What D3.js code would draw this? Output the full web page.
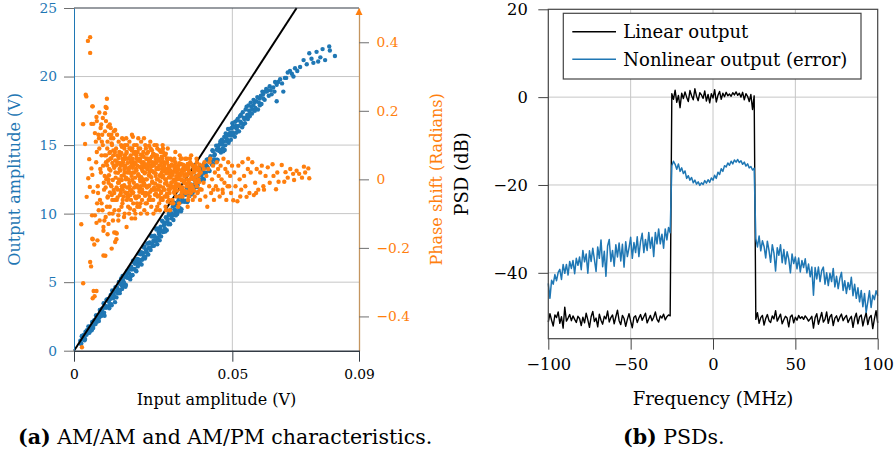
<!DOCTYPE html>
<html lang="en">
<head>
<meta charset="UTF-8">
<title>AM/AM, AM/PM and PSDs</title>
<script src="https://d3js.org/d3.v7.min.js"></script>
<style>
  body { margin: 0; background: #fff; }
  svg { display: block; font-family: "DejaVu Serif", "Liberation Serif", serif; }
</style>
</head>
<body>
<svg width="896" height="453"></svg>
<script>
// ---------- (a) AM/AM and AM/PM : [input amplitude (V), output amplitude (V)]
const amamPoints = [
  [.0020,.73],[.0023,.53],[.0026,1.10],[.0029,.87],[.0032,1.17],[.0035,.85],[.0038,1.25],[.0041,1.49],[.0044,1.29],[.0047,1.74],
  [.0050,1.42],[.0053,1.76],[.0056,1.49],[.0059,2.10],[.0062,1.89],[.0065,2.20],[.0068,1.94],[.0071,2.57],[.0074,2.34],[.0077,2.55],
  [.0080,2.41],[.0083,2.93],[.0086,2.54],[.0089,2.85],[.0092,3.12],[.0095,2.77],[.0098,3.26],[.0101,3.13],[.0104,3.73],[.0107,3.22],
  [.0110,3.57],[.0113,3.32],[.0116,4.06],[.0119,3.31],[.0122,4.15],[.0125,4.10],[.0128,3.95],[.0131,4.64],[.0134,3.89],[.0137,4.58],
  [.0140,4.43],[.0143,4.88],[.0146,4.42],[.0149,5.27],[.0152,4.51],[.0155,5.11],[.0158,4.96],[.0161,5.55],[.0164,4.80],[.0167,5.34],
  [.0170,5.69],[.0173,5.34],[.0176,5.98],[.0179,5.43],[.0182,5.92],[.0185,5.52],[.0188,6.47],[.0191,5.96],[.0194,6.41],[.0197,5.80],
  [.0200,6.70],[.0203,6.40],[.0206,6.64],[.0209,6.34],[.0212,7.18],[.0215,6.63],[.0218,7.13],[.0221,7.52],[.0224,6.72],[.0227,7.36],
  [.0230,7.16],[.0233,7.81],[.0236,7.50],[.0239,7.90],[.0242,7.34],[.0245,8.34],[.0248,7.64],[.0251,8.03],[.0254,8.39],[.0257,8.02],
  [.0260,8.84],[.0263,7.77],[.0266,8.90],[.0269,8.48],[.0272,8.90],[.0275,8.34],[.0278,9.49],[.0281,8.66],[.0284,9.16],[.0287,8.92],
  [.0290,9.74],[.0293,8.79],[.0296,9.60],[.0299,9.90],[.0302,9.27],[.0305,10.28],[.0308,9.66],[.0311,9.95],[.0314,9.53],[.0317,10.79],
  [.0320,10.17],[.0323,10.60],[.0326,9.97],[.0329,10.92],[.0332,10.36],[.0335,11.31],[.0338,10.17],[.0341,11.11],[.0344,10.88],[.0347,11.56],
  [.0350,10.87],[.0353,11.37],[.0356,11.91],[.0359,10.90],[.0362,11.84],[.0365,11.29],[.0368,11.91],[.0371,11.67],[.0374,12.62],[.0377,11.60],
  [.0380,12.49],[.0383,12.19],[.0386,12.74],[.0389,11.93],[.0392,12.74],[.0395,12.38],[.0398,13.33],[.0401,12.44],[.0404,12.93],[.0407,13.48],
  [.0410,12.47],[.0413,13.35],[.0416,12.98],[.0419,13.93],[.0422,13.37],[.0425,13.86],[.0428,13.11],[.0431,14.18],[.0434,13.69],[.0437,14.63],
  [.0440,13.62],[.0443,14.25],[.0446,13.94],[.0449,14.96],[.0452,13.94],[.0455,14.76],[.0458,14.59],[.0461,15.08],[.0464,14.46],[.0467,15.40],
  [.0470,14.78],[.0473,15.27],[.0476,14.64],[.0479,15.85],[.0482,15.29],[.0485,15.78],[.0488,15.16],[.0491,15.71],[.0494,16.20],[.0497,15.70],
  [.0500,16.59],
  [.00215,.51],[.00245,1.06],[.00275,.85],[.00305,1.12],[.00335,.76],[.00365,1.38],[.00395,1.16],[.00425,1.36],[.00455,1.77],[.00485,1.31],
  [.00515,1.72],[.00545,1.60],[.00575,2.09],[.00605,1.66],[.00635,2.21],[.00665,2.06],[.00695,2.57],[.00725,2.11],[.00755,2.52],[.00785,2.16],
  [.00815,2.97],[.00845,2.64],[.00875,3.04],[.00905,2.60],[.00935,3.47],[.00965,2.55],[.00995,3.24],[.01025,3.70],[.01055,3.20],[.01085,3.77],
  [.01115,3.09],[.01145,3.78],[.01175,3.40],[.01205,4.40],[.01235,3.83],[.01265,4.29],[.01295,3.54],[.01325,4.60],[.01355,4.34],[.01385,4.19],
  [.01415,5.01],[.01445,4.20],[.01475,4.90],[.01505,4.76],[.01535,5.45],[.01565,4.71],[.01595,5.40],[.01625,4.66],[.01655,5.42],[.01685,5.81],
  [.01715,5.31],[.01745,5.64],[.01775,5.20],[.01805,6.14],[.01835,5.51],[.01865,6.57],[.01895,5.94],[.01925,6.34],[.01955,5.84],[.01985,6.59],
  [.02015,6.15],[.02045,7.08],[.02075,6.58],[.02105,7.04],[.02135,6.29],[.02165,7.05],[.02195,6.78],[.02225,7.60],[.02255,6.86],[.02285,7.31],
  [.02315,7.83],[.02345,7.02],[.02375,7.84],[.02405,7.52],[.02435,8.39],[.02465,7.83],[.02495,8.34],[.02525,7.66],[.02555,8.30],[.02585,7.97],
  [.02615,8.91],[.02645,8.22],[.02675,8.62],[.02705,8.06],[.02735,9.05],[.02765,8.73],[.02795,9.42],[.02825,8.68],[.02855,9.32],[.02885,8.69],
  [.02915,9.69],[.02945,9.42],[.02975,9.22],[.03005,10.04],[.03035,9.23],[.03065,10.05],[.03095,9.84],[.03125,10.54],[.03155,9.92],[.03185,10.31],
  [.03215,9.87],[.03245,10.68],[.03275,10.12],[.03305,11.18],[.03335,10.43],[.03365,10.83],[.03395,10.32],[.03425,11.32],[.03455,10.94],[.03485,11.63],
  [.03515,10.95],[.03545,11.52],[.03575,10.84],[.03605,11.96],[.03635,11.63],[.03665,11.55],[.03695,12.12],[.03725,11.44],[.03755,12.56],[.03785,12.05],
  [.03815,12.45],[.03845,11.94],[.03875,12.52],[.03905,12.08],[.03935,13.19],[.03965,12.45],[.03995,13.14],[.04025,12.76],[.04055,13.04],[.04085,12.53],
  [.04115,13.65],[.04145,12.96],[.04175,13.54],[.04205,13.40],[.04235,13.97],[.04265,13.17],[.04295,14.04],[.04325,13.84],[.04355,13.58],[.04385,14.57],
  [.04415,13.95],[.04445,14.34],[.04475,13.90],[.04505,14.66],[.04535,13.91],[.04565,14.97],[.04595,14.58],[.04625,15.28],[.04655,14.66],[.04685,15.05],
  [.04715,14.55],[.04745,15.60],[.04775,14.98],[.04805,15.56],[.04835,15.41],[.04865,16.17],[.04895,15.30],[.04925,15.88],[.04955,15.38],[.04985,16.25],
  [.05015,15.93],
  [.0503,15.8],[.0509,16.7],[.0518,16.0],[.0526,16.7],[.0535,16.5],[.0544,17.0],[.0553,17.5],[.0563,17.6],[.0570,18.1],[.0587,17.9],
  [.0595,18.9],[.0612,19.0],[.0502,16.4],[.0508,15.6],[.0511,16.4],[.0514,16.2],[.0517,16.9],[.0521,16.0],[.0527,17.2],[.0531,16.3],
  [.0536,17.0],[.0540,16.6],[.0545,17.8],[.0549,16.9],[.0555,17.1],[.0558,18.1],[.0562,17.3],[.0566,17.9],[.0571,17.5],[.0576,18.2],
  [.0581,17.6],[.0586,18.4],[.0592,18.0],[.0597,18.7],[.0602,18.3],[.0607,19.1],[.0615,18.6],[.0621,19.0],[.0633,18.9],[.0645,19.6],
  [.0657,19.5],[.0670,19.9],[.0688,20.2],[.0705,20.4],[.0725,21.2],[.0750,21.3],[.0771,21.1],[.0785,22.0],
  [.0506,16.3],[.0512,15.9],[.0515,16.8],[.0520,16.4],[.0524,17.1],[.0529,16.6],[.0533,17.4],[.0538,16.9],[.0542,17.6],[.0547,17.2],
  [.0551,17.9],[.0556,17.3],[.0560,17.8],[.0567,18.3],[.0573,17.7],[.0579,18.5],[.0584,18.1],[.0590,18.6],[.0598,18.4],[.0604,18.9],
  [.0609,18.9],[.0618,19.3],[.0624,18.7],[.0629,19.2],[.0640,18.2],[.0640,19.4],[.0651,19.8],[.0661,18.9],[.0666,19.9],[.0682,20.4],
  [.0693,20.0],[.0698,20.6],[.0714,20.7],[.0735,20.9],[.0743,21.7],[.0756,21.0],[.0766,21.8],[.0793,21.2],[.0806,22.2],[.0824,21.5],
  [.0808,21.9],[.0778,21.4],[.0675,20.3],[.0635,19.6]
];

// [input amplitude (V), phase shift (rad)]
const ampmPoints = [
  [.0044,.404],[.0051,.415],[.0051,.369],[.0037,.247],[.0039,.242],[.0029,.161],[.0035,.103],[.0023,-.131],[.0029,-.303],[.0051,-.241],
  [.0054,-.254],[.0062,-.326],[.0071,-.326],[.0059,-.347],[.0065,-.341],[.0059,-.175],[.0064,-.19],[.0025,-.49],[.0055,.162],[.0058,.213],
  [.0048,.059],[.0045,.003],[.0050,-.022],[.0040,-.051],[.0055,.032],[.0058,.013],[.0061,-.036],[.0057,-.105],[.0066,-.105],[.0071,-.127],
  [.0093,-.139],[.0058,-.173],[.0074,-.178],[.0061,.162],[.0071,.182],[.0098,.193],[.0059,.213],[.0091,.179],[.0066,.135],[.0077,.13],
  [.0108,.154],[.0103,.208],[.0104,.235],[.0100,.211],[.0072,.17],[.0080,.195],[.0086,.16],[.0130,.144],[.0099,-.223],[.0134,-.175],
  [.0132,-.156],[.0135,-.158],[.0130,-.183],[.0119,-.202],[.0093,-.222],[.0166,-.139],[.0127,-.155],[.0182,-.114],[.0140,-.105],[.0177,-.085],
  [.0193,-.114],[.0119,.105],[.0124,.12],[.0151,.095],[.0156,.117],[.0186,.124],[.0237,.098],
  [.0070,.05],[.0075,-.02],[.0080,.09],[.0082,-.06],[.0085,.02],[.0088,.11],[.0090,-.09],[.0092,.04],[.0095,-.03],[.0097,.07],
  [.0100,-.11],[.0102,.0],[.0105,.09],[.0107,-.05],[.0110,.13],[.0111,.03],[.0113,-.08],[.0115,.06],[.0118,-.02],[.0120,.1],
  [.0122,-.1],[.0125,.04],[.0127,-.04],[.0129,.08],[.0078,-.09],[.0089,.13],[.0096,-.12],[.0109,-.13],[.0116,.15],[.0123,-.12],
  [.0072,.08],[.0076,-.04],[.0079,.12],[.0083,.03],[.0087,-.07],[.0091,.1],[.0094,-.01],[.0098,.14],[.0101,.05],[.0104,-.08],
  [.0106,.11],[.0109,.0],[.0112,-.1],[.0114,.08],[.0117,.12],[.0121,-.06],[.0124,.07],[.0126,.14],[.0128,-.09],[.0081,-.12],
  [.0093,-.15],[.0106,-.16],[.0118,.13],[.0084,.15],[.0097,.01],[.0073,-.07],[.0069,.11],[.0101,.17],[.0113,.16],[.0087,.07],
  [.0131,.02],[.0133,.09],[.0135,-.06],[.0137,.05],[.0139,-.01],[.0141,.11],[.0142,-.09],[.0144,.03],[.0146,.07],[.0148,-.04],
  [.0150,.01],[.0152,.12],[.0153,-.07],[.0155,.05],[.0157,-.02],[.0159,.09],[.0160,-.1],[.0162,.04],[.0164,.0],[.0166,.08],
  [.0168,-.05],[.0170,.06],[.0171,-.08],[.0173,.03],[.0175,.11],[.0177,-.03],[.0179,.07],[.0180,-.06],[.0182,.01],[.0184,.09],
  [.0186,-.04],[.0188,.05],[.0190,-.09],[.0191,.02],[.0193,.08],[.0195,-.02],[.0197,.06],[.0199,-.07],[.0136,.13],[.0140,-.12],
  [.0149,.1],[.0158,-.11],[.0165,.12],[.0174,-.1],[.0183,.13],[.0194,-.1],[.0138,-.03],[.0147,.04],[.0156,-.05],[.0163,.06],
  [.0172,.0],[.0181,.04],[.0189,-.01],[.0196,.03],[.0143,.08],[.0151,-.02],[.0161,.1],[.0169,.02],[.0178,.09],[.0187,-.07],[.0198,.1],
  [.0200,.04],[.0202,-.05],[.0204,.09],[.0205,.01],[.0207,-.08],[.0209,.06],[.0210,-.02],[.0212,.11],[.0214,.03],[.0215,-.06],
  [.0217,.07],[.0219,-.01],[.0220,.05],[.0222,-.09],[.0224,.02],[.0225,.1],[.0227,-.04],[.0229,.06],[.0230,-.07],[.0232,.03],
  [.0234,.08],[.0235,-.02],[.0237,.05],[.0239,-.05],[.0240,.01],[.0242,.09],[.0244,-.08],[.0245,.04],[.0247,-.01],[.0249,.07],
  [.0250,-.06],[.0252,.02],[.0254,.1],[.0255,-.03],[.0257,.05],[.0259,-.09],[.0260,.03],[.0262,.07],[.0264,-.05],[.0265,.0],
  [.0267,.06],[.0269,-.07],[.0270,.04],[.0272,-.02],[.0274,.08],[.0275,-.04],[.0277,.02],[.0279,.06],[.0280,-.06],[.0282,.01],
  [.0284,.05],[.0285,-.03],[.0287,.07],[.0289,-.08],[.0290,.03],[.0292,-.01],[.0294,.05],[.0295,-.05],[.0297,.02],[.0299,.06],
  [.0203,.12],[.0211,-.1],[.0221,.12],[.0231,-.1],[.0241,.11],[.0251,-.1],[.0261,.1],[.0271,-.09],[.0281,.09],[.0291,-.09],
  [.0303,-.09],[.0313,-.07],[.0208,.0],[.0218,.04],[.0228,-.02],[.0238,.02],[.0248,.05],[.0258,.01],[.0268,-.03],[.0278,.03],
  [.0288,.0],[.0298,-.03],
  [.0300,.03],[.0302,-.04],[.0305,.06],[.0307,-.01],[.0309,.02],[.0311,-.06],[.0314,.04],[.0316,.0],[.0318,-.03],[.0320,.05],
  [.0323,-.05],[.0325,.02],[.0327,-.02],[.0330,.04],[.0332,-.07],[.0334,.01],[.0337,.06],[.0339,-.03],[.0341,.02],[.0343,-.05],
  [.0346,.04],[.0348,-.01],[.0350,.03],[.0353,-.04],[.0355,.06],[.0357,.0],[.0360,-.06],[.0362,.02],[.0364,-.02],[.0367,.05],
  [.0369,-.04],[.0371,.01],[.0374,.04],[.0376,-.03],[.0378,.02],[.0381,-.05],[.0383,.03],[.0385,-.01],[.0388,.05],[.0390,-.04],
  [.0393,.0],[.0395,.03],[.0398,-.06],[.0340,.061],[.0366,.061],[.0370,.07],[.0329,-.08],[.0359,-.08],
  [.0400,.02],[.0403,-.03],[.0406,.04],[.0409,-.01],[.0412,.05],[.0415,-.05],[.0418,.01],[.0421,-.08],[.0424,.03],[.0427,-.02],
  [.0430,.06],[.0433,-.04],[.0436,.0],[.0439,.04],[.0442,-.06],[.0445,.02],[.0448,-.02],[.0451,.05],[.0454,-.03],[.0457,.01],
  [.0460,-.05],[.0463,.04],[.0466,.0],[.0469,-.03],[.0472,.06],[.0475,-.01],[.0478,.03],[.0481,-.06],[.0484,.02],[.0487,.05],
  [.0490,-.02],[.0493,.01],[.0496,-.04],[.0499,.04],
  [.0503,-.061],[.0516,-.064],[.0545,-.051],[.0568,-.046],[.0506,.02],[.0510,-.02],[.0519,.04],[.0523,.0],[.0528,-.03],[.0532,.05],
  [.0537,.01],[.0541,-.02],[.0549,.03],[.0554,-.04],[.0558,.02],[.0563,.05],[.0572,-.01],[.0577,.03],[.0582,-.03],[.0588,.02],
  [.0593,.04],[.0598,-.02],[.0550,.06],[.0525,-.05],[.0575,-.04],
  [.0605,.01],[.0612,.035],[.0618,-.01],[.0627,.044],[.0638,-.029],[.0642,.02],[.0646,-.007],[.0656,.042],[.0664,-.007],[.0668,.021],
  [.0675,.005],[.0683,.03],[.0692,.016],[.0695,-.002],[.0703,.025],[.0711,.016],[.0720,.005],[.0726,.037],[.0740,.032],[.0743,.003],
  [.0730,.02],[.0600,-.03],[.0630,.01],
  [.0146,.045],[.0154,-.03],[.0161,.07],[.0167,-.06],[.0175,.035],[.0182,-.035],[.0189,.075],[.0196,-.055],[.0203,.015],[.0209,.09],
  [.0216,-.04],[.0223,.035],[.0230,.075],[.0236,-.06],[.0243,.025],[.0250,.075],[.0256,-.045],[.0263,.035],[.0270,.085],[.0276,-.055],
  [.0283,.025],[.0290,.075],[.0296,-.065],[.0304,.015],[.0310,.055],[.0317,-.04],[.0324,.03],[.0331,-.015],[.0338,.045],[.0345,-.035],
  [.0352,.015],[.0359,.045],
  [.0150,-.08],[.0159,.03],[.0168,.1],[.0176,-.02],[.0185,.06],[.0193,-.05],[.0201,.08],[.0210,-.07],[.0219,.0],[.0227,.09],
  [.0236,.04],[.0245,-.03],[.0254,.07],[.0263,-.08],[.0272,.01],[.0281,.08],[.0290,-.05],[.0299,.04],[.0308,-.07],[.0317,.06],
  [.0326,.0],[.0335,-.05],[.0344,.03],
  [.0142,.0],[.0153,.06],[.0164,-.04],[.0175,.09],[.0186,.02],[.0197,.07],[.0208,-.03],[.0219,.08],[.0230,.0],[.0241,-.06],
  [.0252,.04],[.0263,.09],[.0274,-.06],[.0285,.04],[.0296,.09],[.0307,.04],[.0318,-.02],[.0329,.03],[.0340,-.04],[.0351,.06],[.0362,-.05],
  [.0205,-.05],[.0213,.05],[.0226,-.07],[.0233,.06],[.0246,.085],[.0258,.06],[.0266,-.02],[.0278,.05],[.0286,-.05],[.0293,.06],
  [.0305,-.02],[.0312,.02],[.0321,-.03],[.0334,.07],[.0348,.01],[.0361,.03],[.0375,-.06],[.0387,.06],[.0399,.02],[.0410,.03],
  [.0428,.05],[.0440,-.03],[.0455,.03],[.0470,-.04],[.0485,-.02],
  [.0160,.02],[.0170,-.04],[.0180,.05],[.0190,.1],[.0200,-.08],[.0220,-.04],[.0240,.06],[.0260,-.03],[.0280,.1],[.0300,-.06],
  [.0320,.08],[.0340,.0],[.0360,.04],[.0380,.0],
  [.01000,-.024],[.01015,.070],[.01030,.005],[.01045,.041],[.01060,-.053],[.01075,.055],[.01090,-.010],[.01105,.012],[.01120,.077],[.01135,-.038],
  [.01150,.026],[.01165,-.017],[.01180,.062],[.01195,-.046],[.01210,.048],[.01225,-.002],[.01240,.084],[.01255,-.031],[.01270,.034],[.01285,-.060],
  [.01300,.055],[.01315,.005],[.01330,.041],[.01345,-.024],[.01360,.070],[.01375,-.053],[.01390,.019],[.01405,.062],[.01420,-.010],[.01435,.048],
  [.01450,-.046],[.01465,.026],[.01480,-.031],[.01495,.077],[.01510,-.002],[.01525,.041],[.01540,-.060],[.01555,.055],[.01570,.012],[.01585,-.017],
  [.01600,.070],[.01615,-.038],[.01630,.034],[.01645,.005],[.01660,.077],[.01675,-.024],[.01690,.048],[.01705,-.053],[.01720,.026],[.01735,.062],
  [.01750,-.010],[.01765,.019],[.01780,-.046],[.01795,.055],[.01810,-.031],[.01825,.084],[.01840,-.002],[.01855,.034],[.01870,-.038],[.01885,.041],
  [.01900,-.024],[.01915,.077],[.01930,.005],[.01945,.048],[.01960,-.053],[.01975,.026],[.01990,-.017],[.02005,.060],[.02020,-.024],[.02035,.012],
  [.02050,.054],[.02065,-.036],[.02080,.036],[.02095,-.006],[.02110,.072],[.02125,.006],[.02140,.048],[.02155,-.030],[.02170,.024],[.02185,-.018],
  [.02200,.066],[.02215,-.012],[.02230,.018],[.02245,-.048],[.02260,.042],[.02275,.000],[.02290,.060],[.02305,-.024],[.02320,.030],[.02335,-.042],
  [.02350,.048],[.02365,.012],[.02380,-.018],[.02395,.054],[.02410,-.036],[.02425,.036],[.02440,.006],[.02455,.066],[.02470,-.006],[.02485,.024],
  [.02500,-.030],[.02515,.042],[.02530,-.024],[.02545,.072],[.02560,-.012],[.02575,.018],[.02590,-.042],[.02605,.048],[.02620,.000],[.02635,.060],
  [.02650,-.018],[.02665,.030],[.02680,-.048],[.02695,.054],[.02710,.012],[.02725,-.006],[.02740,.042],[.02755,-.036],[.02770,.066],[.02785,.006],
  [.02800,.036],[.02815,-.024],[.02830,.024],[.02845,-.030],[.02860,.072],[.02875,-.012],[.02890,.048],[.02905,.000],[.02920,.018],[.02935,-.042],
  [.02950,.060],[.02965,-.018],[.02980,.030],[.02995,.006],[.03010,.034],[.03025,-.029],[.03040,.026],[.03055,.005],[.03070,-.020],[.03085,.043],
  [.03100,-.008],[.03115,.013],[.03130,-.024],[.03145,.022],[.03160,-.037],[.03175,.030],[.03190,-.003],[.03205,.039],[.03220,-.012],[.03235,.009],
  [.03250,-.033],[.03265,.034],[.03280,-.016],[.03295,.018],[.03310,.001],[.03325,.047],[.03340,-.020],[.03355,.013],[.03370,-.029],[.03385,.026],
  [.03400,-.003],[.03415,.018],[.03430,-.024],[.03445,.043],[.03460,-.003],[.03475,.026],[.03490,-.033],[.03505,.009],[.03520,.030],[.03535,-.012],
  [.03550,.039],[.03565,-.020],[.03580,.013],[.03595,-.037],[.03610,.034],[.03625,-.008],[.03640,.022],[.03655,-.029],[.03670,.047],[.03685,.001],
  [.03700,.018],[.03715,-.016],[.03730,.043],[.03745,-.024],[.03760,.005],[.03775,.030],[.03790,-.033],[.03805,.022],[.03820,-.003],[.03835,.039],
  [.03850,-.012],[.03865,.009],[.03880,-.020],[.03895,.034],[.03910,-.037],[.03925,.026],[.03940,.013],[.03955,-.008],[.03970,.043],[.03985,-.029]
];

// linear (ideal) amplifier reference
const linearRef = [[0, 0], [0.0703, 25]];

const inTicks = [0, 0.05, 0.09];
const inTickLabels = ["0", "0.05", "0.09"];
const ampTicks = [0, 5, 10, 15, 20, 25];
const ampGrid = [5, 10, 15, 20];
const inGrid = [0.05];
const phaseTicks = [-0.4, -0.2, 0, 0.2, 0.4];
const phaseTickLabels = ["\u22120.4", "\u22120.2", "0", "0.2", "0.4"];

// ---------- (b) PSDs, 1 MHz bins from -100 to 100 MHz
const freqs = d3.range(-100, 101);
const psdLinear = [
  -51.2,-49.3,-50.8,-52.1,-49.6,-50.2,-48.9,-51.5,-50.0,-52.6,
  -47.8,-51.0,-50.3,-49.5,-50.9,-49.8,-50.6,-51.3,-49.9,-50.4,
  -52.0,-50.1,-51.4,-49.2,-50.7,-52.4,-50.0,-48.8,-51.1,-50.3,
  -52.3,-49.4,-50.8,-51.7,-49.9,-50.5,-48.7,-51.2,-50.2,-49.6,
  -51.6,-50.0,-48.5,-50.9,-51.8,-49.7,-50.4,-52.2,-50.6,-49.3,
  -51.0,-52.5,-50.1,-49.8,-51.3,-50.3,-49.5,-50.8,-50.0,-49.2,
  -51.4,-50.5,-49.7,-50.9,-50.1,-48.9,-50.6,-51.2,-49.8,-50.3,
  -49.4,-50.7,-50.0,-49.6,-49.8,
  0.8,-0.5,1.6,-1.2,0.4,-2.4,0.9,-0.3,1.2,0.0,
  -1.0,1.5,0.3,-0.6,1.9,0.2,-0.8,1.0,0.5,-0.3,
  1.4,-0.9,0.6,-1.3,0.8,-0.2,1.7,-1.1,0.4,1.3,
  -0.5,0.9,0.1,1.1,0.3,0.7,0.2,1.0,0.5,1.2,
  0.4,0.9,0.0,1.1,-0.6,0.8,0.2,-1.0,0.6,-2.8,
  0.3,
  -50.6,-49.1,-51.5,-50.2,-49.7,-51.9,-50.4,-49.5,-50.9,-51.3,
  -49.8,-50.5,-48.6,-51.0,-50.2,-49.4,-51.6,-50.7,-49.9,-50.3,
  -52.3,-50.0,-49.6,-51.4,-50.1,-50.8,-49.7,-50.4,-50.0,-50.6,
  -49.8,-50.3,-51.0,-50.5,-49.9,-52.6,-50.2,-49.3,-51.7,-50.4,
  -49.0,-51.2,-50.6,-48.9,-51.5,-50.0,-49.5,-52.0,-50.3,-49.8,
  -51.1,-50.1,-49.4,-50.9,-50.2,-49.7,-51.3,-50.5,-49.9,-52.4,
  -50.3,-49.2,-51.6,-50.0,-49.6,-52.1,-50.4,-49.1,-51.8,-50.2,
  -49.7,-52.7,-50.5,-48.6,-51.4
];
const psdNonlinear = [
  -42.4,-45.8,-41.7,-42.6,-40.4,-41.8,-39.9,-39.2,-41.5,-38.1,
  -40.1,-38.1,-40.5,-37.4,-39.0,-37.2,-40.2,-36.7,-38.3,-36.4,
  -39.3,-34.9,-37.5,-35.7,-40.1,-35.0,-37.4,-34.4,-37.0,-39.7,
  -34.1,-36.7,-32.5,-38.6,-35.1,-40.8,-33.9,-32.4,-37.4,-34.9,
  -38.5,-33.6,-36.4,-33.2,-37.3,-33.5,-38.7,-32.9,-36.3,-34.3,
  -31.9,-36.7,-33.1,-35.4,-31.8,-36.3,-32.9,-31.0,-35.4,-32.4,
  -34.9,-30.8,-34.4,-31.9,-36.3,-30.8,-33.4,-30.0,-33.4,-31.2,
  -34.4,-30.0,-32.5,-29.7,-30.9,
  -15.6,-14.6,-15.3,-16.4,-15.2,-16.9,-16.1,-17.4,-16.8,-18.5,
  -17.9,-18.9,-18.3,-19.5,-18.9,-19.8,-19.3,-20.1,-19.5,-19.9,
  -19.0,-19.6,-18.8,-19.4,-18.4,-18.9,-17.8,-18.5,-17.1,-17.6,
  -16.3,-16.9,-15.6,-15.9,-15.0,-15.5,-14.6,-15.2,-14.3,-14.8,
  -14.2,-14.9,-14.5,-15.3,-14.8,-15.7,-15.2,-16.1,-15.8,-16.6,
  -16.2,
  -32.2,-34.1,-31.6,-35.0,-32.7,-34.0,-36.6,-32.8,-34.9,-37.6,
  -33.6,-35.5,-39.6,-34.3,-36.0,-33.6,-37.7,-34.7,-38.0,-35.2,
  -36.9,-40.0,-35.7,-37.9,-36.4,-39.1,-36.6,-39.8,-37.2,-38.8,
  -36.8,-40.0,-38.0,-40.9,-38.7,-45.1,-38.8,-41.4,-38.7,-42.0,
  -39.5,-38.7,-42.6,-40.0,-42.9,-40.1,-42.0,-39.0,-43.2,-40.8,
  -43.6,-41.3,-39.9,-44.0,-41.8,-44.7,-42.2,-43.8,-41.0,-45.2,
  -42.6,-45.8,-43.4,-46.6,-44.0,-47.7,-44.7,-49.0,-46.6,-44.1,
  -47.9,-45.1,-46.1,-44.1,-45.2
];
const freqTicks = [-100, -50, 0, 50, 100];
const freqGrid = [-50, 0, 50];
const psdTicks = [20, 0, -20, -40];
const psdGrid = [0, -20, -40];
const legendLabels = ["Linear output", "Nonlinear output (error)"];

// ---------- drawing
const blue = "#1f77b4", orange = "#ff7f0e";
const gridColor = "#c6c6c6", tickColor = "#6f6f6f", frameColor = "#333b44";
const font = "'DejaVu Serif', 'Liberation Serif', serif";

const svg = d3.select("svg");
svg.append("rect").attr("width", 896).attr("height", 453).attr("fill", "#fff");

function styleAxis(g, size, color) {
  g.attr("font-family", font).attr("font-size", size);
  g.selectAll(".tick line").attr("stroke", tickColor);
  g.selectAll(".tick text").attr("fill", color);
}

function label(x, y, rot, size, color, txt) {
  return svg.append("text")
    .attr("transform", `translate(${x},${y})` + (rot ? " rotate(-90)" : ""))
    .attr("text-anchor", "middle").attr("fill", color)
    .style("font-size", size + "px")
    .text(txt);
}

// ===== (a)
const xA = d3.scaleLinear().domain([0, 0.09]).range([74, 359]);
const yA = d3.scaleLinear().domain([0, 25]).range([350.7, 8]);
const yP = d3.scaleLinear().domain([-0.5, 0.5]).range([350.7, 8]);

const gridA = svg.append("g");
gridA.selectAll("line.h").data(ampGrid).enter().append("line")
  .attr("x1", xA(0)).attr("x2", xA(0.09))
  .attr("y1", d => yA(d)).attr("y2", d => yA(d))
  .attr("stroke", gridColor);
gridA.selectAll("line.v").data(inGrid).enter().append("line")
  .attr("x1", d => xA(d)).attr("x2", d => xA(d))
  .attr("y1", yA(0)).attr("y2", yA(25))
  .attr("stroke", gridColor);

svg.append("g").selectAll("circle").data(amamPoints).enter().append("circle")
  .attr("cx", d => xA(d[0])).attr("cy", d => yA(d[1])).attr("r", 2.2)
  .attr("fill", blue);

svg.append("path").datum(linearRef)
  .attr("d", d3.line().x(d => xA(d[0])).y(d => yA(d[1])))
  .attr("stroke", "#000").attr("stroke-width", 2).attr("fill", "none");

svg.append("g").selectAll("circle").data(ampmPoints).enter().append("circle")
  .attr("cx", d => xA(d[0])).attr("cy", d => yP(d[1])).attr("r", 2.2)
  .attr("fill", orange);

const axLeftA = svg.append("g").attr("transform", `translate(${xA(0)},0)`)
  .call(d3.axisLeft(yA).tickValues(ampTicks).tickSize(10).tickSizeOuter(0).tickPadding(7));
styleAxis(axLeftA, 13.8, blue);
axLeftA.select(".domain").attr("stroke", blue);

const axRightA = svg.append("g").attr("transform", `translate(${xA(0.09)},0)`)
  .call(d3.axisRight(yP).tickValues(phaseTicks).tickSize(10).tickSizeOuter(0).tickPadding(7.5)
    .tickFormat((d, i) => phaseTickLabels[i]));
styleAxis(axRightA, 13.8, orange);
axRightA.select(".domain").attr("stroke", "#c4955f").attr("stroke-width", 1.3);
svg.append("path")
  .attr("d", `M${xA(0.09) - 3.5},${yP(0.5) + 7} L${xA(0.09)},${yP(0.5)} L${xA(0.09) + 3.5},${yP(0.5) + 7} Z`)
  .attr("fill", orange);

svg.append("line")
  .attr("x1", xA(0)).attr("x2", xA(0.09)).attr("y1", yA(25)).attr("y2", yA(25))
  .attr("stroke", frameColor).attr("stroke-width", 1.2);

const axBottomA = svg.append("g").attr("transform", `translate(0,${yA(0)})`)
  .call(d3.axisBottom(xA).tickValues(inTicks).tickSize(11).tickSizeOuter(0).tickPadding(7.5)
    .tickFormat((d, i) => inTickLabels[i]));
styleAxis(axBottomA, 13.8, "#000");
axBottomA.selectAll(".tick line").attr("stroke", frameColor);
axBottomA.select(".domain").attr("stroke", frameColor).attr("stroke-width", 1.4);

label(20, yA(12.5), true, 16, blue, "Output amplitude (V)");
label(442, yP(0), true, 16, orange, "Phase shift (Radians)");
label((xA(0) + xA(0.09)) / 2, 405, false, 16, "#000", "Input amplitude (V)");

const capA = svg.append("text").attr("x", 18).attr("y", 444).style("font-size", "20.5px");
capA.append("tspan").attr("font-weight", "bold").text("(a)");
capA.append("tspan").text(" AM/AM and AM/PM characteristics.");

// ===== (b)
const xB = d3.scaleLinear().domain([-100, 100]).range([548.3, 877.7]);
const yB = d3.scaleLinear().domain([-55, 20]).range([338.7, 9.3]);

const gridB = svg.append("g");
gridB.selectAll("line.h").data(psdGrid).enter().append("line")
  .attr("x1", xB(-100)).attr("x2", xB(100))
  .attr("y1", d => yB(d)).attr("y2", d => yB(d))
  .attr("stroke", gridColor);
gridB.selectAll("line.v").data(freqGrid).enter().append("line")
  .attr("x1", d => xB(d)).attr("x2", d => xB(d))
  .attr("y1", yB(-55)).attr("y2", yB(20))
  .attr("stroke", gridColor);

const psdLine = d3.line().x((d, i) => xB(freqs[i])).y(d => yB(d));
svg.append("path").datum(psdLinear).attr("d", psdLine)
  .attr("fill", "none").attr("stroke", "#000").attr("stroke-width", 1.4).attr("stroke-linejoin", "round");
svg.append("path").datum(psdNonlinear).attr("d", psdLine)
  .attr("fill", "none").attr("stroke", blue).attr("stroke-width", 1.5).attr("stroke-linejoin", "round");

svg.append("rect")
  .attr("x", xB(-100)).attr("y", yB(20))
  .attr("width", xB(100) - xB(-100)).attr("height", yB(-55) - yB(20))
  .attr("fill", "none").attr("stroke", "#444").attr("stroke-width", 1.2);

const axLeftB = svg.append("g").attr("transform", `translate(${xB(-100)},0)`)
  .call(d3.axisLeft(yB).tickValues(psdTicks).tickSize(10).tickSizeOuter(0).tickPadding(10.5));
styleAxis(axLeftB, 16.3, "#000");
axLeftB.selectAll(".tick line").attr("stroke", "#444");
axLeftB.select(".domain").remove();

const axBottomB = svg.append("g").attr("transform", `translate(0,${yB(-55)})`)
  .call(d3.axisBottom(xB).tickValues(freqTicks).tickSize(11).tickSizeOuter(0).tickPadding(9));
styleAxis(axBottomB, 16.3, "#000");
axBottomB.selectAll(".tick line").attr("stroke", "#444");
axBottomB.select(".domain").remove();

label(468, (yB(20) + yB(-55)) / 2, true, 18, "#000", "PSD (dB)");
label(xB(0), 405, false, 18, "#000", "Frequency (MHz)");

// legend
const legend = svg.append("g").attr("transform", "translate(563.3,13.3)");
legend.append("rect").attr("width", 297.7).attr("height", 65.7)
  .attr("fill", "#fff").attr("stroke", "#444").attr("stroke-width", 1.2);
const legendColors = ["#000", blue];
const entry = legend.selectAll("g.entry").data(legendLabels).enter().append("g")
  .attr("transform", (d, i) => `translate(0,${18.4 + i * 27.6})`);
entry.append("line").attr("x1", 9).attr("x2", 52.7)
  .attr("stroke", (d, i) => legendColors[i]).attr("stroke-width", 1.5);
entry.append("text").attr("x", 60).attr("dy", "0.35em")
  .style("font-size", "18px").text(d => d);

const capB = svg.append("text").attr("x", 623).attr("y", 444).style("font-size", "20.5px");
capB.append("tspan").attr("font-weight", "bold").text("(b)");
capB.append("tspan").text(" PSDs.");
</script>
</body>
</html>
